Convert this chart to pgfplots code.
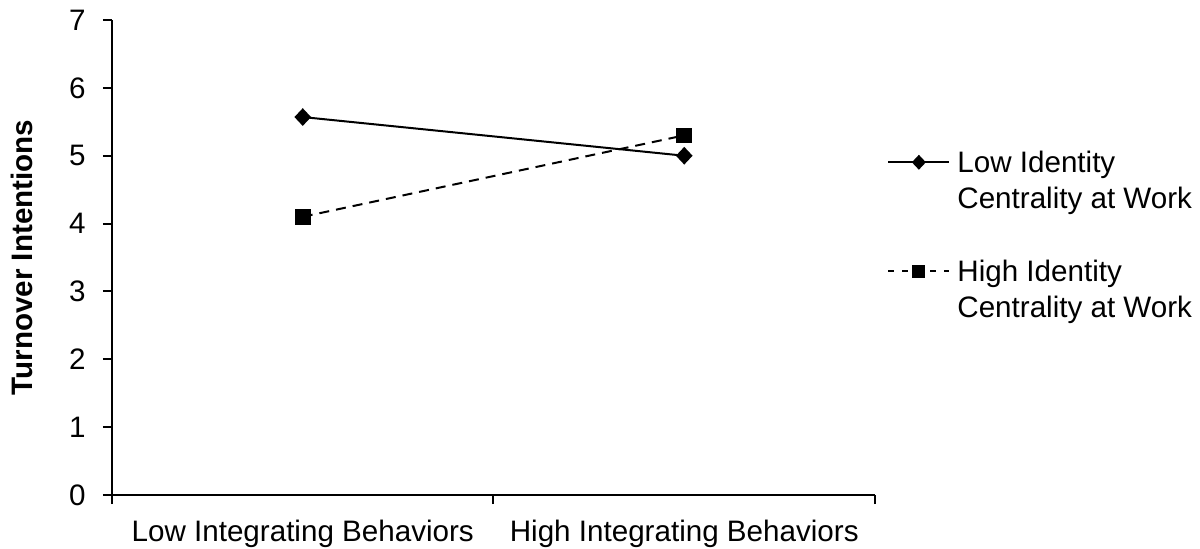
\documentclass[border=0pt]{standalone}
\usepackage{fontspec}
\setmainfont{Liberation Sans}
\usepackage{pgfplots}
\pgfplotsset{compat=1.18}
\begin{document}
\fontsize{14.8}{17.8}\selectfont
\begin{tikzpicture}[font=\fontsize{14.8}{17.8}\selectfont]
\path[use as bounding box] (-56pt,-26.5pt) rectangle (544pt,247.5pt);
\begin{axis}[
  at={(0,0)}, anchor=south west,
  scale only axis, width=381.5pt, height=237.5pt,
  xmin=0.5, xmax=2.5, ymin=0, ymax=7,
  axis x line*=bottom, axis y line*=left,
  axis line style={line width=1pt, black},
  every tick/.style={black, line width=1pt},
  tick align=outside,
  major tick length=4.5pt, minor tick length=4.5pt,
  xtick={1,2},
  xticklabels={Low Integrating Behaviors, High Integrating Behaviors},
  major x tick style={draw=none},
  minor xtick={0.5,1.5,2.5},
  ytick={0,1,2,3,4,5,6,7},
  yticklabel style={inner sep=0pt, xshift=-8.5pt},
  xticklabel style={inner sep=0pt, yshift=-8pt},
  /pgf/number format/assume math mode=true,
  ylabel={Turnover Intentions},
  ylabel style={at={(axis description cs:-0.118,0.5)}, anchor=center, font=\fontsize{14.8}{17.8}\selectfont\bfseries},
  clip=false,
  legend cell align=left,
  legend style={at={(axis description cs:1.0157,0.732)}, anchor=north west,
    draw=none, fill=none, inner sep=0pt, row sep=19pt, column sep=3.5pt,
    nodes={inner sep=0pt, text depth={}},
    cells={anchor=base west}},
  legend image code/.code={
    \draw[mark repeat=2,mark phase=2,#1] plot coordinates {(0pt,0.35em) (15.25pt,0.35em) (30.5pt,0.35em)};
  },
]
\addplot[black, line width=1pt, mark=diamond*, mark size=3.7pt, mark options={solid, xscale=1.25},
  legend image post style={mark size=3pt}]
  coordinates {(1,5.57) (2,5.0)};
\addlegendentry{\begin{tabular}[t]{@{}l@{}}Low Identity\\Centrality at Work\end{tabular}}
\addplot[black, line width=1pt, dash pattern=on 5pt off 3.5pt, mark=square*, mark size=3.4pt, mark options={solid},
  legend image post style={mark size=2.7pt, dash pattern=on 3pt off 4pt}]
  coordinates {(1,4.1) (2,5.3)};
\addlegendentry{\begin{tabular}[t]{@{}l@{}}High Identity\\Centrality at Work\end{tabular}}
\end{axis}
\end{tikzpicture}
\end{document}
